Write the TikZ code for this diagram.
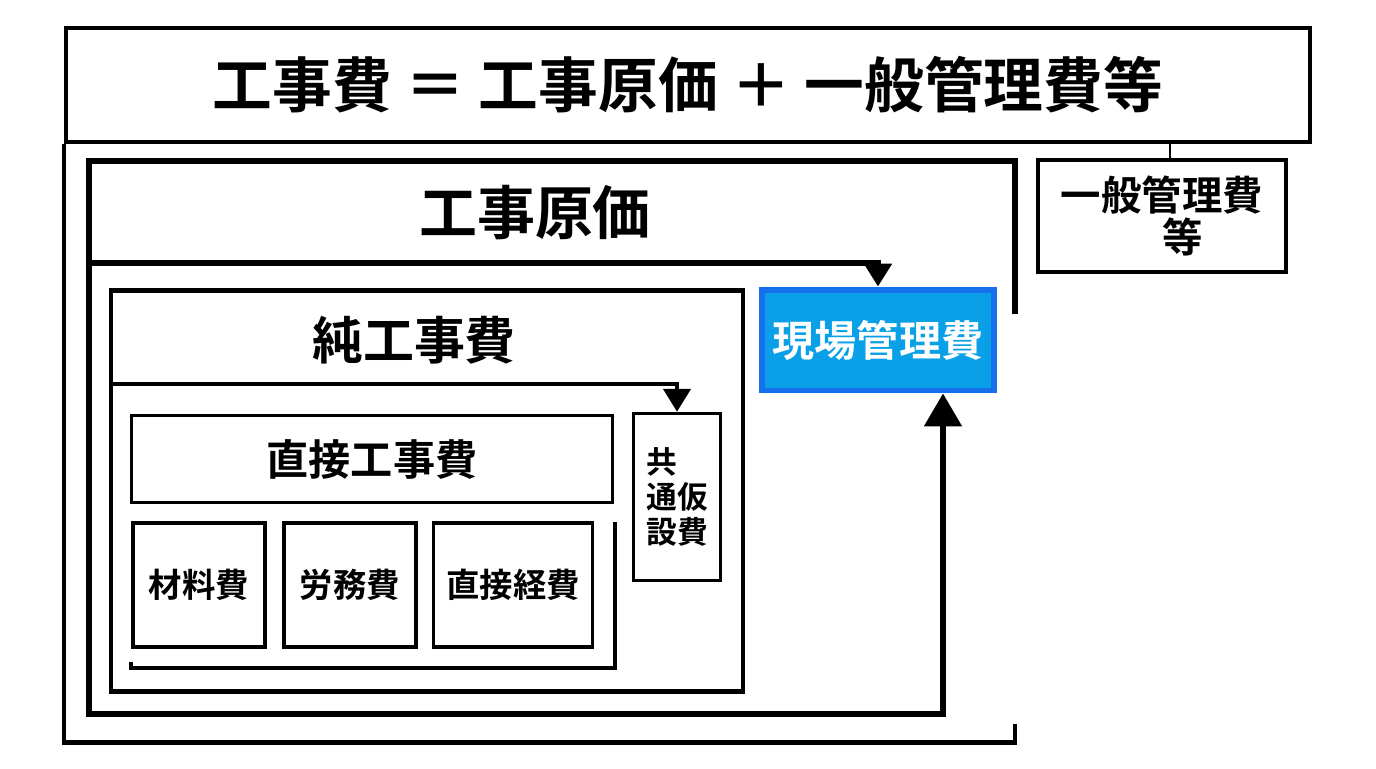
\documentclass[tikz,border=0pt]{standalone}
\usepackage{fontspec}
\setmainfont{Noto Sans CJK JP}[BoldFont={* Bold}]
\usetikzlibrary{arrows.meta}
\definecolor{genbablue}{RGB}{10,160,232}
\definecolor{genbaedge}{RGB}{22,112,236}

\begin{document}
\begin{tikzpicture}[x=0.02cm, y=-0.02cm, >={Triangle[width=5.4mm,length=4.6mm]},
  every node/.style={inner sep=0pt, align=center, font=\bfseries},
  box/.style={draw, line width=2pt},
  frame/.style={line width=2.6pt},
  genka/.style={line width=3.1pt},
  big/.style={font=\bfseries\fontsize{34}{40}\selectfont},
  mid/.style={font=\bfseries\fontsize{24}{28}\selectfont},
  small/.style={font=\bfseries\fontsize{19}{22}\selectfont}]
\useasboundingbox (0,0) rectangle (1376,768);
% top row
\node[box, frame, big, minimum width=24.88cm, minimum height=2.28cm] (total) at (688,85) {工事費 ＝ 工事原価 ＋ 一般管理費等};
\node[box, font=\bfseries\fontsize{23}{24}\selectfont, minimum width=4.96cm, minimum height=2.24cm] (ippan) at (1162,216) {一般管理費\\\hspace*{1em}等};
% 工事原価
\node[font=\bfseries\fontsize{33}{38}\selectfont] (genkatext) at (535,213) {工事原価};
\node[draw=genbaedge, line width=3.4pt, fill=genbablue, text=white, mid, minimum width=4.64cm, minimum height=2.02cm] (genba) at (878,340) {現場管理費};
% 純工事費
\node[box, frame, minimum width=12.64cm, minimum height=8.02cm] (jun) at (427,491) {};
\node[font=\bfseries\fontsize{29}{34}\selectfont] (juntext) at (414,340) {純工事費};
\node[box, mid, minimum width=9.62cm, minimum height=1.74cm] (chokusetsu) at (372,459) {直接工事費};
\node[box, small, minimum width=2.64cm, minimum height=2.48cm] (zairyo) at (199,585) {材料費};
\node[box, small, minimum width=2.64cm, minimum height=2.48cm] (romu) at (350,585) {労務費};
\node[box, small, minimum width=3.18cm, minimum height=2.48cm] (keihi) at (513,585) {直接経費};
\node[box, font=\bfseries\fontsize{17.5}{20}\selectfont, align=left, minimum width=1.74cm, minimum height=3.34cm] (kyotsu) at (677,497) {共\\通仮\\設費};
% frame corners
\coordinate (gtl) at (89,161);
\coordinate (gtr) at (1015,314);
\coordinate (gsplit) at (89,263);
\coordinate (jsplit) at (111,384);
\coordinate (oend) at (1015,724);
\coordinate (bl) at (131,662);
\coordinate (br) at (615,522);
% lines
\draw[line width=1.2pt] (ippan.north -| 1170,0) -- (total.south -| 1170,0);
\draw[frame] (total.south west) -- ++(0,598) -| (oend);
\draw[genka, -{Triangle[width=7.4mm,length=6.6mm]}] (gtr) |- (gtl) -- (89,714) -| ([xshift=1.3cm]genba.south);
\draw[genka, ->] (gsplit) -| (genba.north);
\draw[frame, ->] (jsplit) -| (kyotsu.north);
\draw[line width=1.8pt] (bl) -- (131,668) -| (br);
\end{tikzpicture}
\end{document}
